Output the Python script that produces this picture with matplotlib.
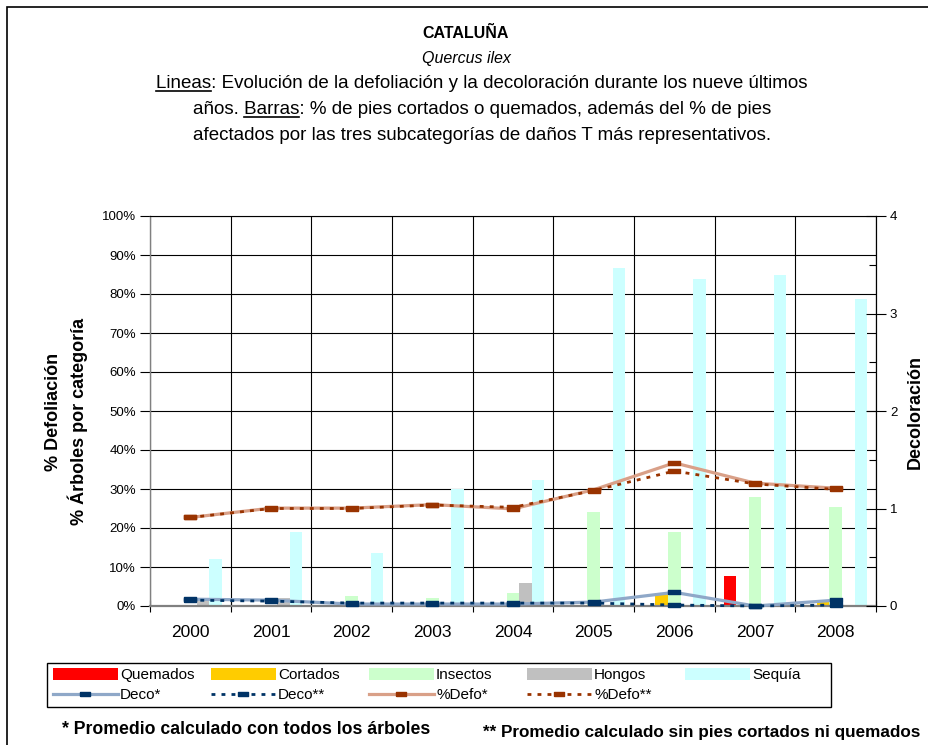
import matplotlib
matplotlib.use("Agg")
import matplotlib.pyplot as plt
import numpy as np
from matplotlib.patches import Patch, Rectangle
from matplotlib.lines import Line2D
from matplotlib.ticker import MultipleLocator, FixedLocator, FuncFormatter

plt.rcParams['font.family'] = ['Liberation Sans', 'DejaVu Sans']

# ---------------- data ----------------
years = ['2000', '2001', '2002', '2003', '2004', '2005', '2006', '2007', '2008']
quemados = [0, 0, 0, 0, 0, 0, 0, 7.8, 0]
cortados = [0.3, 0, 0, 0, 0.3, 0, 3.3, 0, 1.3]
insectos = [0, 0, 2.6, 2.1, 3.3, 24.1, 19.0, 28.0, 25.4]
hongos = [2.1, 2.1, 0.4, 0.3, 5.9, 0, 0, 0, 0]
sequia = [12.0, 19.0, 13.6, 29.9, 32.3, 86.7, 83.8, 84.9, 78.7]

deco_all = [0.07, 0.06, 0.02, 0.02, 0.02, 0.04, 0.14, 0.0, 0.06]
deco_sin = [0.06, 0.05, 0.03, 0.03, 0.03, 0.03, 0.01, 0.0, 0.01]
defo_all = [22.7, 25.1, 25.1, 26.0, 24.9, 29.8, 36.7, 31.5, 30.2]
defo_sin = [22.7, 25.0, 25.0, 25.9, 25.3, 29.6, 34.6, 31.3, 29.9]

bar_series = [quemados, cortados, insectos, hongos, sequia]
bar_names = ['Quemados', 'Cortados', 'Insectos', 'Hongos', 'Sequía']
bar_colors = ['#FF0000', '#FFCC00', '#CCFFCC', '#C0C0C0', '#CCFFFF']
line_names = ['Deco*', 'Deco**', '%Defo*', '%Defo**']

title = 'CATALUÑA'
subtitle = 'Quercus ilex'
text_lines = [
    'Lineas: Evolución de la defoliación y la decoloración durante los nueve últimos',
    'años. Barras: % de pies cortados o quemados, además del % de pies',
    'afectados por las tres subcategorías de daños T más representativos.',
]
foot_left = '* Promedio calculado con todos los árboles'
foot_right = '** Promedio calculado sin pies cortados ni quemados'

# ---------------- figure ----------------
W, H = 929, 745
fig = plt.figure(figsize=(W / 100, H / 100), dpi=100)

def fx(px):
    return px / W

def fy(py):
    return 1 - py / H

# outer frame
fig.patches.append(Rectangle((fx(7), -0.05), 1.2, fy(7) + 0.05, transform=fig.transFigure,
                             fill=False, edgecolor='black', lw=1.2))

ax = fig.add_axes([fx(150), fy(606), fx(876) - fx(150), fy(216) - fy(606)])
x = np.arange(len(years))
bw = 0.156
for i, (vals, name, col) in enumerate(zip(bar_series, bar_names, bar_colors)):
    ax.bar(x + (i - 2) * bw, vals, width=bw, color=col, label=name, zorder=2, linewidth=0)

ax.set_xlim(-0.5, len(years) - 0.5)
ax.set_ylim(0, 100)
ax.set_axisbelow(True)
ax.yaxis.set_major_locator(MultipleLocator(10))
ax.yaxis.set_major_formatter(FuncFormatter(lambda v, p: f'{int(round(v))}%'))
ax.set_xticks(x)
ax.set_xticklabels(years, fontsize=12.5)
ax.xaxis.set_minor_locator(FixedLocator(np.arange(-0.5, len(years), 1.0)))
ax.tick_params(axis='x', which='major', length=0, pad=14)
ax.tick_params(axis='x', which='minor', direction='inout', length=9, color='black', width=0.8)
ax.tick_params(axis='y', which='major', direction='out', length=7, color='black', width=0.8,
               labelsize=9.5, pad=3)
ax.grid(axis='y', which='major', color='black', lw=0.8)
ax.grid(axis='x', which='minor', color='black', lw=0.8)
for s in ['left', 'bottom']:
    ax.spines[s].set_color('#808080')
ax.spines['left'].set_linewidth(1.0)
ax.spines['bottom'].set_linewidth(1.6)
ax.spines['top'].set_color('black')
ax.spines['top'].set_linewidth(0.8)

mk = [(-1, -0.36), (1, -0.36), (1, 0.36), (-1, 0.36), (-1, -0.36)]

l_defo_all, = ax.plot(x, defo_all, color='#D9A088', lw=2.3, marker=mk, markersize=9,
                      markerfacecolor='#993300', markeredgecolor='#993300', zorder=4)
l_defo_sin, = ax.plot(x, defo_sin, color='#993300', lw=2.0, ls=(0, (1.4, 2.2)), marker=mk,
                      markersize=9, markerfacecolor='#993300', markeredgecolor='#993300',
                      zorder=5)

ax2 = ax.twinx()
ax2.set_ylim(0, 4)
ax2.yaxis.set_major_locator(MultipleLocator(1))
ax2.yaxis.set_minor_locator(MultipleLocator(0.5))
ax2.tick_params(axis='y', which='major', direction='inout', length=14, color='black', width=0.8,
                labelsize=9.5, pad=3)
ax2.tick_params(axis='y', which='minor', direction='in', length=5, color='black', width=0.8)
ax2.spines['right'].set_color('black')
ax2.spines['right'].set_linewidth(0.8)
for s in ['left', 'top', 'bottom']:
    ax2.spines[s].set_visible(False)

l_deco_all, = ax2.plot(x, deco_all, color='#8FA8C8', lw=2.3, marker=mk, markersize=9,
                       markerfacecolor='#003366', markeredgecolor='#003366', zorder=4,
                       clip_on=False)
l_deco_sin, = ax2.plot(x, deco_sin, color='#003366', lw=2.0, ls=(0, (1.4, 2.2)), marker=mk,
                       markersize=9, markerfacecolor='#003366', markeredgecolor='#003366',
                       zorder=5, clip_on=False)

# axis labels
fig.text(fx(54), fy(412), '% Defoliación', rotation=90, ha='center', va='center',
         fontsize=13, fontweight='bold')
fig.text(fx(78), fy(421), '% Árboles por categoría', rotation=90, ha='center', va='center',
         fontsize=13, fontweight='bold')
fig.text(fx(915), fy(412), 'Decoloración', rotation=90, ha='center', va='center',
         fontsize=13, fontweight='bold')

# titles
fig.text(fx(466), fy(33), title, ha='center', va='center', fontsize=11.5, fontweight='bold')
fig.text(fx(466), fy(58), subtitle, ha='center', va='center', fontsize=11.5, style='italic')

renderer = fig.canvas.get_renderer()
line_fs = 13.5
underline_words = {0: ['Lineas'], 1: ['Barras']}
for k, (yy, line) in enumerate(zip([84, 110, 136], text_lines)):
    t = fig.text(fx(482), fy(yy), line, ha='center', va='center', fontsize=line_fs)
    words = underline_words.get(k, [])
    if words:
        bb = t.get_window_extent(renderer)
        fp = t.get_fontproperties()
        _, _, dfull = renderer.get_text_width_height_descent(line, fp, ismath=False)
        base = bb.y0 + dfull
        for wd in words:
            idx = line.index(wd)
            wpre = renderer.get_text_width_height_descent(line[:idx] + '|', fp, ismath=False)[0] \
                - renderer.get_text_width_height_descent('|', fp, ismath=False)[0]
            wwd = renderer.get_text_width_height_descent(wd, fp, ismath=False)[0]
            x0 = bb.x0 + wpre
            uy = base - 2.5
            fig.add_artist(Line2D([x0 / W, (x0 + wwd) / W], [uy / H, uy / H],
                                  transform=fig.transFigure, color='black', lw=1.2))

# legend: five equally spaced columns inside one frame
bar_handles = [Patch(facecolor=c, edgecolor='none') for c in bar_colors]
line_handles = [l_deco_all, l_deco_sin, l_defo_all, l_defo_sin]
fig.patches.append(Rectangle((fx(47), fy(707)), fx(831) - fx(47), fy(663) - fy(707),
                             transform=fig.transFigure, fill=False, edgecolor='black', lw=1.0))
for i in range(5):
    hs = [bar_handles[i]]
    ls = [bar_names[i]]
    if i < 4:
        hs.append(line_handles[i])
        ls.append(line_names[i])
    lg = fig.legend(hs, ls, loc='upper left', bbox_to_anchor=(fx(48 + 158 * i), fy(663)),
                    fontsize=11, handlelength=4.3, handleheight=0.85, handletextpad=0.12,
                    labelspacing=0.4, borderpad=0.3, frameon=False, borderaxespad=0,
                    markerscale=0.8)

# footnotes
fig.text(fx(62), fy(730), foot_left, ha='left', va='center', fontsize=12.7, fontweight='bold')
fig.text(fx(483), fy(732), foot_right, ha='left', va='center', fontsize=12.3, fontweight='bold')

fig.savefig('out.png', dpi=100)
